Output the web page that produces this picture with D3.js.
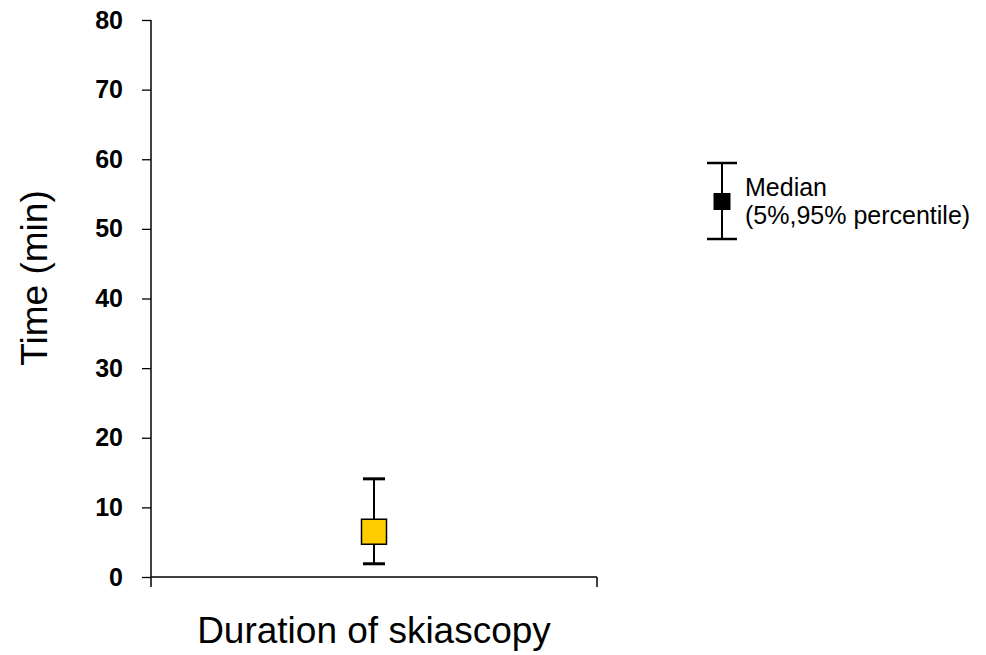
<!DOCTYPE html>
<meta charset="utf-8">
<script src="https://d3js.org/d3.v7.min.js"></script>
<style>
  body { margin: 0; background: #fff; }
  svg text { font-family: "Liberation Sans", Arial, sans-serif; }
</style>
<div id="chart"></div>
<script>
// data
var categories = ["Duration of skiascopy"];
var medians = [6.5];
var lower = [1.9];
var upper = [14.1];
var yTicks = [0, 10, 20, 30, 40, 50, 60, 70, 80];

var W = 986, H = 655;
var margin = {top: 20, right: 389, bottom: 78, left: 151};
var width = W - margin.left - margin.right,
    height = H - margin.top - margin.bottom;

var svg = d3.select("#chart").append("svg")
    .attr("width", W).attr("height", H);
var g = svg.append("g")
    .attr("transform", "translate(" + margin.left + "," + margin.top + ")");

var y = d3.scaleLinear().domain([0, 80]).range([height, 0]);
var x = d3.scaleBand().domain(categories).range([0, width]);

// y axis
var yAxis = g.append("g")
    .call(d3.axisLeft(y).tickValues(yTicks).tickSize(9).tickSizeOuter(0).tickPadding(19));
yAxis.select(".domain").attr("stroke", "#000").attr("stroke-width", 1.5)
    .attr("d", "M0," + (height + 10) + "V0");
yAxis.selectAll(".tick line").attr("stroke-width", 1.3);
yAxis.selectAll(".tick text")
    .attr("font-size", 25).attr("font-weight", "bold").attr("fill", "#000")
    .attr("font-family", "Liberation Sans, Arial, sans-serif");

// x axis
var xAxis = g.append("g")
    .attr("transform", "translate(0," + height + ")");
xAxis.append("line").attr("x1", 0).attr("x2", width)
    .attr("stroke", "#000").attr("stroke-width", 1.5);
xAxis.append("line").attr("x1", width).attr("x2", width).attr("y1", 0).attr("y2", 10)
    .attr("stroke", "#000").attr("stroke-width", 1.5);

// axis titles
svg.append("text")
    .attr("transform", "translate(47,278) rotate(-90)")
    .attr("text-anchor", "middle")
    .attr("font-size", 37)
    .text("Time (min)");
svg.append("text")
    .attr("x", margin.left + width / 2).attr("y", 643)
    .attr("text-anchor", "middle")
    .attr("font-size", 37)
    .text(categories[0]);

// error bars
var pts = categories.map(function(c, i) {
  return {cat: c, med: medians[i], lo: lower[i], hi: upper[i]};
});
var pg = g.selectAll(".pt").data(pts).enter().append("g").attr("class", "pt")
    .attr("transform", function(d) { return "translate(" + (x(d.cat) + x.bandwidth() / 2) + ",0)"; });
pg.append("line")
    .attr("y1", function(d) { return y(d.lo); })
    .attr("y2", function(d) { return y(d.hi); })
    .attr("stroke", "#000").attr("stroke-width", 2);
pg.selectAll(".cap").data(function(d) { return [d.lo, d.hi]; }).enter().append("line")
    .attr("class", "cap")
    .attr("x1", -11).attr("x2", 11)
    .attr("y1", function(v) { return y(v); })
    .attr("y2", function(v) { return y(v); })
    .attr("stroke", "#000").attr("stroke-width", 3);
pg.append("rect")
    .attr("x", -12.5).attr("width", 25).attr("height", 25)
    .attr("y", function(d) { return y(d.med) - 12.5; })
    .attr("fill", "#ffcc00").attr("stroke", "#000").attr("stroke-width", 1.5);

// legend
var lg = svg.append("g").attr("transform", "translate(722,0)");
lg.append("line").attr("y1", 163).attr("y2", 239).attr("stroke", "#000").attr("stroke-width", 2);
[163, 239].forEach(function(yy) {
  lg.append("line").attr("x1", -15).attr("x2", 15).attr("y1", yy).attr("y2", yy)
    .attr("stroke", "#000").attr("stroke-width", 2.5);
});
lg.append("rect").attr("x", -8.5).attr("y", 193).attr("width", 17).attr("height", 17).attr("fill", "#000");
lg.append("text").attr("x", 23).attr("y", 196).attr("font-size", 25).text("Median");
lg.append("text").attr("x", 23).attr("y", 224).attr("font-size", 25).text("(5%,95% percentile)");
</script>
